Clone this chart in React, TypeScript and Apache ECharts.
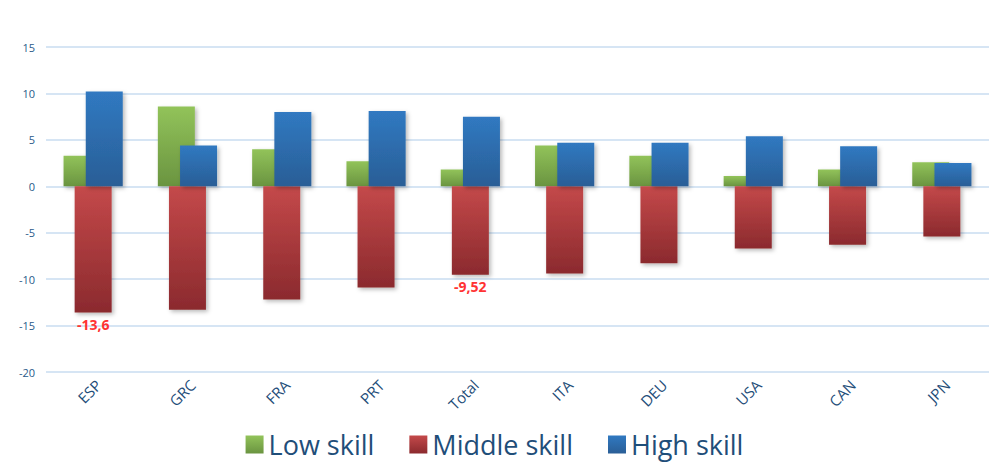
import React, { useEffect, useRef } from "react";
import * as echarts from "echarts";

const categories = ["ESP", "GRC", "FRA", "PRT", "Total", "ITA", "DEU", "USA", "CAN", "JPN"];
const lowSkill = [3.3, 8.6, 4.0, 2.7, 1.8, 4.4, 3.3, 1.1, 1.8, 2.6];
const middleSkill = [-13.6, -13.3, -12.2, -10.9, -9.52, -9.4, -8.3, -6.7, -6.3, -5.4];
const highSkill = [10.2, 4.4, 8.0, 8.1, 7.5, 4.7, 4.7, 5.4, 4.3, 2.5];
const labelledMiddle = ["ESP", "Total"];

const FONT = "'Open Sans', sans-serif";

function grad(top: string, bottom: string) {
  return new echarts.graphic.LinearGradient(0, 0, 0, 1, [
    { offset: 0, color: top },
    { offset: 1, color: bottom },
  ]);
}

const shadow = {
  shadowBlur: 4,
  shadowColor: "rgba(0,0,0,0.28)",
  shadowOffsetX: 2,
  shadowOffsetY: 2,
};

export default function App() {
  const ref = useRef<HTMLDivElement>(null);
  useEffect(() => {
    if (!ref.current) return;
    const chart = echarts.init(ref.current, null, { renderer: "svg" });
    const middleData = middleSkill.map((v, i) =>
      labelledMiddle.includes(categories[i])
        ? {
            value: v,
            label: {
              show: true,
              position: "bottom",
              distance: 5,
              color: "#ff3333",
              fontWeight: "bold",
              fontSize: 14,
              fontFamily: FONT,
              formatter: (p: any) => String(p.value).replace(".", ","),
            },
          }
        : v
    );
    chart.setOption({
      animation: false,
      textStyle: { fontFamily: FONT },
      grid: { left: 46, right: 0, top: 47, bottom: 102, containLabel: false },
      legend: {
        top: 426,
        left: "center",
        icon: "rect",
        itemWidth: 18,
        itemHeight: 18,
        itemGap: 35,
        textStyle: { fontSize: 27, color: "#1f4e79", fontFamily: FONT },
        data: ["Low skill", "Middle skill", "High skill"],
      },
      xAxis: {
        type: "category",
        data: categories,
        axisLine: { show: false },
        axisTick: { show: false },
        axisLabel: {
          rotate: 45,
          margin: 5,
          fontSize: 15,
          color: "#1f4e79",
          fontFamily: FONT,
          interval: 0,
          verticalAlign: "top",
        },
      },
      yAxis: {
        type: "value",
        min: -20,
        max: 15,
        interval: 5,
        axisLine: { show: false },
        axisTick: { show: false },
        axisLabel: { fontSize: 11, color: "#2a5a8a", margin: 11, fontFamily: FONT },
        splitLine: { lineStyle: { color: "#c9dcf0", width: 1.5 } },
      },
      series: [
        {
          name: "Low skill",
          type: "bar",
          data: lowSkill,
          barWidth: 37,
          barGap: "-70%",
          itemStyle: { color: grad("#92c35a", "#6a9440"), ...shadow },
        },
        {
          name: "Middle skill",
          type: "bar",
          data: middleData,
          barWidth: 37,
          barGap: "-70%",
          itemStyle: { color: grad("#c4494a", "#8b2a2e"), ...shadow },
        },
        {
          name: "High skill",
          type: "bar",
          data: highSkill,
          barWidth: 37,
          barGap: "-70%",
          itemStyle: { color: grad("#3079c1", "#2a5e96"), ...shadow },
        },
      ],
    });
    return () => chart.dispose();
  }, []);
  return (
    <div
      ref={ref}
      style={{ position: "absolute", left: 0, top: 0, width: 989, height: 474, background: "#fff" }}
    />
  );
}
